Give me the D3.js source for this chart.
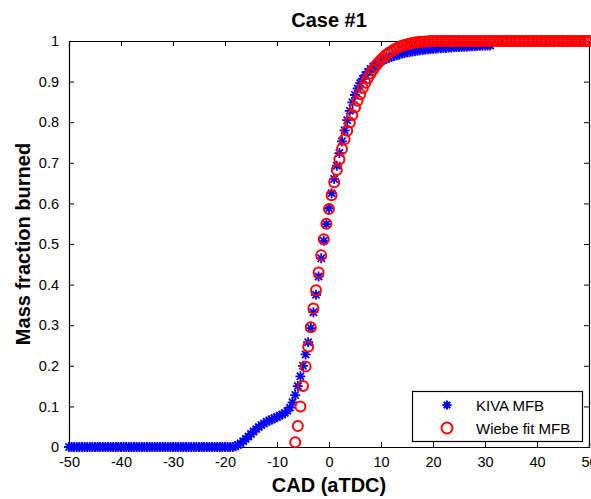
<!DOCTYPE html>
<html><head><meta charset="utf-8">
<script src="https://cdn.jsdelivr.net/npm/d3@7"></script>
<style>body{margin:0;background:#fff}svg{display:block}text{font-family:"Liberation Sans",Arial,sans-serif}</style>
</head><body>
<script>
const kivaCAD = [
-50,-49.5,-49,-48.5,-48,-47.5,-47,-46.5,-46,-45.5,
-45,-44.5,-44,-43.5,-43,-42.5,-42,-41.5,-41,-40.5,
-40,-39.5,-39,-38.5,-38,-37.5,-37,-36.5,-36,-35.5,
-35,-34.5,-34,-33.5,-33,-32.5,-32,-31.5,-31,-30.5,
-30,-29.5,-29,-28.5,-28,-27.5,-27,-26.5,-26,-25.5,
-25,-24.5,-24,-23.5,-23,-22.5,-22,-21.5,-21,-20.5,
-20,-19.5,-19,-18.5,-18,-17.5,-17,-16.5,-16,-15.5,
-15,-14.5,-14,-13.5,-13,-12.5,-12,-11.5,-11,-10.5,
-10,-9.5,-9,-8.5,-8,-7.5,-7,-6.5,-6,-5.5,
-5,-4.5,-4,-3.5,-3,-2.5,-2,-1.5,-1,-0.5,
0,0.5,1,1.5,2,2.5,3,3.5,4,4.5,
5,5.5,6,6.5,7,7.5,8,8.5,9,9.5,
10,10.5,11,11.5,12,12.5,13,13.5,14,14.5,
15,15.5,16,16.5,17,17.5,18,18.5,19,19.5,
20,20.5,21,21.5,22,22.5,23,23.5,24,24.5,
25,25.5,26,26.5,27,27.5,28,28.5,29,29.5,
30,30.5,31];
const kivaMFB = [
0,0,0,0,0,0,0,0,0,0,
0,0,0,0,0,0,0,0,0,0,
0,0,0,0,0,0,0,0,0,0,
0,0,0,0,0,0,0,0,0,0,
0,0,0,0,0,0,0,0,0,0,
0,0,0,0,0,0,0,0,0,0,
0,0,0,0,.002,.005,.009,.014,.020,.026,
.032,.038,.044,.049,.054,.058,.062,.065,.068,.071,
.074,.077,.080,.084,.089,.097,.110,.128,.150,.174,
.200,.228,.258,.293,.332,.375,.420,.465,.508,.549,
.588,.625,.660,.693,.724,.753,.780,.805,.828,.849,
.867,.883,.896,.907,.916,.924,.931,.937,.942,.946,
.950,.953,.956,.959,.961,.963,.965,.967,.969,.970,
.972,.973,.974,.975,.976,.977,.978,.979,.979,.980,
.981,.981,.982,.982,.983,.983,.984,.984,.985,.985,
.985,.986,.986,.986,.987,.987,.987,.988,.988,.988,
.989,.989,.989];
const wiebeCAD = [
-6.5,-6,-5.5,
-5,-4.5,-4,-3.5,-3,-2.5,-2,-1.5,-1,-0.5,
0,0.5,1,1.5,2,2.5,3,3.5,4,4.5,
5,5.5,6,6.5,7,7.5,8,8.5,9,9.5,
10,10.5,11,11.5,12,12.5,13,13.5,14,14.5,
15,15.5,16,16.5,17,17.5,18,18.5,19,19.5,
20,20.5,21,21.5,22,22.5,23,23.5,24,24.5,
25,25.5,26,26.5,27,27.5,28,28.5,29,29.5,
30,30.5,31,31.5,32,32.5,33,33.5,34,34.5,
35,35.5,36,36.5,37,37.5,38,38.5,39,39.5,
40,40.5,41,41.5,42,42.5,43,43.5,44,44.5,
45,45.5,46,46.5,47,47.5,48,48.5,49,49.5,
50];
const wiebeMFB = [
.012,.052,.100,
.150,.198,.247,.295,.341,.386,.430,.472,.512,.550,
.586,.620,.652,.682,.709,.734,.758,.779,.799,.818,
.836,.853,.869,.884,.897,.909,.920,.930,.939,.947,
.954,.960,.966,.971,.975,.979,.982,.985,.988,.990,
.992,.993,.995,.996,.997,.998,.998,.999,.999,1,
1,1,1,1,1,1,1,1,1,1,
1,1,1,1,1,1,1,1,1,1,
1,1,1,1,1,1,1,1,1,1,
1,1,1,1,1,1,1,1,1,1,
1,1,1,1,1,1,1,1,1,1,
1,1,1,1,1,1,1,1,1,1,
1];
const xTicks = [-50,-40,-30,-20,-10,0,10,20,30,40,50];
const xTickLabels = ["-50","-40","-30","-20","-10","0","10","20","30","40","50"];
const yTicks = [0,0.1,0.2,0.3,0.4,0.5,0.6,0.7,0.8,0.9,1];
const yTickLabels = ["0","0.1","0.2","0.3","0.4","0.5","0.6","0.7","0.8","0.9","1"];
const seriesNames = ["KIVA MFB","Wiebe fit MFB"];
const titleText = "Case #1";
const xLabel = "CAD (aTDC)";
const yLabel = "Mass fraction burned";

const W = 591, H = 499;
const L = 69, R = 589, T = 41, B = 447;
const svg = d3.select("body").append("svg").attr("width", W).attr("height", H);
const x = d3.scaleLinear().domain([-50, 50]).range([L, R]);
const y = d3.scaleLinear().domain([0, 1]).range([B, T]);

// axes
const gx = svg.append("g").attr("transform", `translate(0,${B})`)
  .call(d3.axisBottom(x).tickValues(xTicks).tickSize(-5).tickPadding(10).tickFormat((d, i) => xTickLabels[i]));
const gxTop = svg.append("g").attr("transform", `translate(0,${T})`)
  .call(d3.axisTop(x).tickValues(xTicks).tickSize(-5).tickFormat(""));
const gy = svg.append("g").attr("transform", `translate(${L},0)`)
  .call(d3.axisLeft(y).tickValues(yTicks).tickSize(-5).tickPadding(10).tickFormat((d, i) => yTickLabels[i]));
const gyR = svg.append("g").attr("transform", `translate(${R},0)`)
  .call(d3.axisRight(y).tickValues(yTicks).tickSize(-5).tickFormat(""));
[gx, gxTop, gy, gyR].forEach(g => {
  g.select(".domain").attr("stroke", "#000").attr("stroke-width", 1.2);
  g.selectAll(".tick line").attr("stroke", "#000").attr("stroke-width", 1);
  g.selectAll(".tick text").attr("fill", "#000").style("font-size", "14.5px")
   .style("font-family", '"Liberation Sans",Arial,sans-serif');
});

// star marker path
function starPath(cx, cy, r) {
  const d = r * 0.72;
  return `M${cx - r},${cy}L${cx + r},${cy}M${cx},${cy - r}L${cx},${cy + r}` +
         `M${cx - d},${cy - d}L${cx + d},${cy + d}M${cx - d},${cy + d}L${cx + d},${cy - d}`;
}

const kiva = kivaCAD.map((c, i) => ({c, v: kivaMFB[i]}));
const wiebe = wiebeCAD.map((c, i) => ({c, v: wiebeMFB[i]}));

svg.append("g").selectAll("path").data(kiva).join("path")
  .attr("d", d => starPath(x(d.c), y(d.v), 5))
  .attr("stroke", "#0000ff").attr("stroke-width", 1.8).attr("fill", "none");

svg.append("g").selectAll("circle").data(wiebe).join("circle")
  .attr("cx", d => x(d.c)).attr("cy", d => y(d.v)).attr("r", 5)
  .attr("stroke", "#ff0000").attr("stroke-width", 2).attr("fill", "none");

// title & labels
svg.append("text").attr("x", (L + R) / 2).attr("y", 27).attr("text-anchor", "middle")
  .style("font-size", "20px").style("font-weight", "bold").text(titleText);
svg.append("text").attr("x", (L + R) / 2).attr("y", 492).attr("text-anchor", "middle")
  .style("font-size", "20px").style("font-weight", "bold").text(xLabel);
svg.append("text").attr("transform", `translate(30,${(T + B) / 2}) rotate(-90)`).attr("text-anchor", "middle")
  .style("font-size", "20px").style("font-weight", "bold").text(yLabel);

// legend
const lg = svg.append("g");
lg.append("rect").attr("x", 412.5).attr("y", 391.5).attr("width", 170).attr("height", 50)
  .attr("fill", "#fff").attr("stroke", "#000").attr("stroke-width", 1.2);
lg.append("path").attr("d", starPath(447, 405, 4.5)).attr("stroke", "#0000ff").attr("stroke-width", 2).attr("fill", "none");
lg.append("circle").attr("cx", 447).attr("cy", 428).attr("r", 5.5).attr("stroke", "#ff0000").attr("stroke-width", 2).attr("fill", "none");
lg.append("text").attr("x", 476).attr("y", 410.5).style("font-size", "15px").text(seriesNames[0]);
lg.append("text").attr("x", 476).attr("y", 433.5).style("font-size", "15px").text(seriesNames[1]);
</script>
</body></html>
